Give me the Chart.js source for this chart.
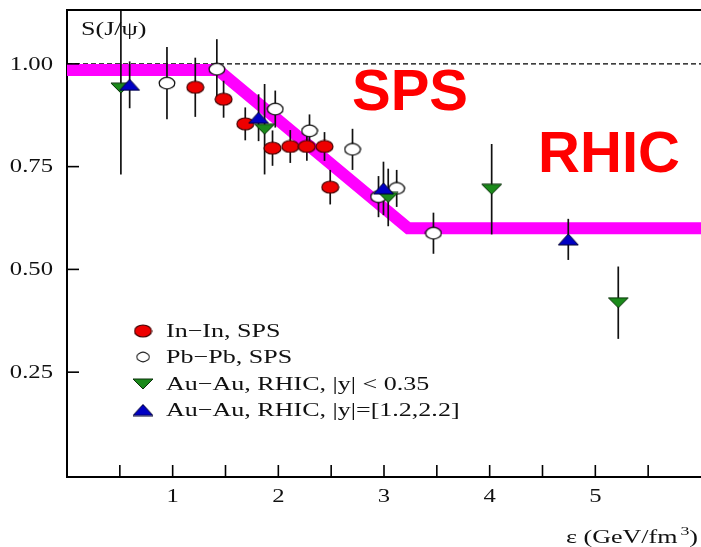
<!DOCTYPE html>
<html>
<head>
<meta charset="utf-8">
<script src="https://cdn.jsdelivr.net/npm/chart.js@4.4.0/dist/chart.umd.min.js"></script>
<style>
  body { margin: 0; background: #fff; }
  canvas { display: block; }
</style>
</head>
<body>
<canvas id="suppChart" width="701" height="547"></canvas>
<script>
// J/psi survival vs energy density
const inInX = [1.214, 1.482, 1.687, 1.945, 2.113, 2.27, 2.437, 2.491];
const inInY = [0.943, 0.914, 0.854, 0.795, 0.799, 0.799, 0.799, 0.700];
const inInErr = [0.072, 0.045, 0.040, 0.043, 0.040, 0.035, 0.035, 0.042];

const pbPbX = [0.946, 1.418, 1.971, 2.295, 2.702, 2.948, 3.12, 3.468];
const pbPbY = [0.953, 0.987, 0.890, 0.837, 0.792, 0.677, 0.697, 0.588];
const pbPbErr = [0.088, 0.073, 0.045, 0.040, 0.050, 0.050, 0.045, 0.050];

const auMidX = [0.51, 1.87, 3.04, 4.019, 5.217];
const auMidY = [0.941, 0.841, 0.675, 0.695, 0.419];
const auMidErr = [0.21, 0.11, 0.07, 0.11, 0.088];

const auFwdX = [0.593, 1.813, 2.995, 4.744];
const auFwdY = [0.949, 0.869, 0.697, 0.573];
const auFwdErr = [0.057, 0.057, 0.065, 0.050];

// magenta "expectation" band and the dashed unity line
const bandX = [0, 1.43, 3.23, 6];
const bandY = [0.985, 0.985, 0.60, 0.60];
const refX = [0, 6];
const refY = [1, 1];

const seriesNames = ['In\u2212In, SPS', 'Pb\u2212Pb, SPS', 'Au\u2212Au, RHIC, |y| < 0.35', 'Au\u2212Au, RHIC, |y|=[1.2,2.2]'];
const xLabelValues = [1, 2, 3, 4, 5];
const xTickLabels = ['1', '2', '3', '4', '5'];
const yTickValues = [0.25, 0.5, 0.75, 1.0];
const yTickLabels = ['0.25', '0.50', '0.75', '1.00'];

const SX = 1.37; // the scanned figure is stretched sideways
const SERIF = '"Liberation Serif", "Times New Roman", serif';

function toPoints(xs, ys) {
    return xs.map((x, i) => ({ x: x, y: ys[i] }));
}

function marker(w, h, draw) {
    const c = document.createElement('canvas');
    c.width = w;
    c.height = h;
    draw(c.getContext('2d'), w, h);
    return c;
}

const redDot = marker(19, 14, (g, w, h) => {
    g.beginPath();
    g.ellipse(w / 2, h / 2, w / 2 - 1, h / 2 - 1, 0, 0, Math.PI * 2);
    g.fillStyle = '#ee0000';
    g.fill();
    g.lineWidth = 1.2;
    g.strokeStyle = '#400000';
    g.stroke();
});
const whiteDot = marker(18, 14, (g, w, h) => {
    g.beginPath();
    g.ellipse(w / 2, h / 2, w / 2 - 1.2, h / 2 - 1.2, 0, 0, Math.PI * 2);
    g.fillStyle = '#ffffff';
    g.fill();
    g.lineWidth = 1.3;
    g.strokeStyle = '#111';
    g.stroke();
});
const greenDown = marker(22, 12, (g, w, h) => {
    g.beginPath();
    g.moveTo(1, 1); g.lineTo(w - 1, 1); g.lineTo(w / 2, h - 1); g.closePath();
    g.fillStyle = '#1b8a1b';
    g.fill();
    g.lineWidth = 1;
    g.strokeStyle = '#0a300a';
    g.stroke();
});
const blueUp = marker(22, 13, (g, w, h) => {
    g.beginPath();
    g.moveTo(w / 2, 1); g.lineTo(w - 1, h - 1); g.lineTo(1, h - 1); g.closePath();
    g.fillStyle = '#0000c4';
    g.fill();
    g.lineWidth = 1;
    g.strokeStyle = '#000030';
    g.stroke();
});

const errSeries = [
    { xs: inInX, ys: inInY, es: inInErr },
    { xs: pbPbX, ys: pbPbY, es: pbPbErr },
    { xs: auMidX, ys: auMidY, es: auMidErr },
    { xs: auFwdX, ys: auFwdY, es: auFwdErr }
];

function wideText(ctx, text, x, y, align, font) {
    ctx.save();
    ctx.font = font;
    ctx.translate(x, y);
    ctx.scale(SX, 1);
    ctx.textAlign = align;
    ctx.fillText(text, 0, 0);
    ctx.restore();
}

const paperPlugin = {
    id: 'paper',
    afterDatasetDraw(chart, args) {
        // error bars go over the band but under the markers
        if (args.index !== 1) return;
        const ctx = chart.ctx;
        const xs = chart.scales.x, ys = chart.scales.y, area = chart.chartArea;
        ctx.save();
        ctx.beginPath();
        ctx.rect(area.left, area.top, area.right - area.left, area.bottom - area.top);
        ctx.clip();
        ctx.strokeStyle = '#111';
        ctx.lineWidth = 1.7;
        errSeries.forEach(s => {
            s.xs.forEach((x, i) => {
                const px = xs.getPixelForValue(x);
                ctx.beginPath();
                ctx.moveTo(px, ys.getPixelForValue(s.ys[i] + s.es[i]));
                ctx.lineTo(px, ys.getPixelForValue(s.ys[i] - s.es[i]));
                ctx.stroke();
            });
        });
        ctx.restore();
    },
    afterDraw(chart) {
        const ctx = chart.ctx;
        const xs = chart.scales.x, ys = chart.scales.y, area = chart.chartArea;
        ctx.save();
        ctx.strokeStyle = '#000';
        ctx.lineWidth = 2;
        // top frame
        ctx.beginPath();
        ctx.moveTo(area.left, area.top);
        ctx.lineTo(area.right, area.top);
        ctx.stroke();
        // inward tick marks
        ctx.lineWidth = 1.6;
        xs.ticks.forEach(t => {
            if (t.value <= xs.min || t.value >= xs.max) return;
            const px = xs.getPixelForValue(t.value);
            ctx.beginPath();
            ctx.moveTo(px, area.bottom);
            ctx.lineTo(px, area.bottom - 12);
            ctx.stroke();
        });
        ys.ticks.forEach(t => {
            const py = ys.getPixelForValue(t.value);
            ctx.beginPath();
            ctx.moveTo(area.left, py);
            ctx.lineTo(area.left + 12, py);
            ctx.stroke();
        });

        ctx.fillStyle = '#111';
        ctx.textBaseline = 'middle';
        const tickFont = '18px ' + SERIF;
        yTickValues.forEach((v, i) => {
            wideText(ctx, yTickLabels[i], 53, ys.getPixelForValue(v) + 1, 'right', tickFont);
        });
        xLabelValues.forEach((v, i) => {
            wideText(ctx, xTickLabels[i], xs.getPixelForValue(v), 497, 'center', tickFont);
        });

        // axis titles
        wideText(ctx, 'S(J/\u03C8)', 81, 30, 'left', '19px ' + SERIF);
        ctx.textBaseline = 'alphabetic';
        ctx.font = '19px ' + SERIF;
        const w1 = ctx.measureText('\u03B5 (GeV/fm').width * SX;
        const w3 = ctx.measureText(')').width * SX;
        ctx.font = '13px ' + SERIF;
        const w2 = ctx.measureText('3').width * SX;
        let tx = 698 - (w1 + 3 + w2 + w3);
        wideText(ctx, '\u03B5 (GeV/fm', tx, 543, 'left', '19px ' + SERIF);
        tx += w1 + 3;
        wideText(ctx, '3', tx, 535, 'left', '13px ' + SERIF);
        tx += w2;
        wideText(ctx, ')', tx, 543, 'left', '19px ' + SERIF);

        // legend
        ctx.textBaseline = 'middle';
        const rows = [331, 357, 384, 410];
        chart.data.datasets.forEach(ds => {
            if (ds.legendRow === undefined) return;
            const y = rows[ds.legendRow];
            const img = ds.pointStyle;
            const k = ds.legendRow === 1 ? 0.8 : 1; // open circle is drawn smaller in the key
            ctx.drawImage(img, 143 - img.width * k / 2, y - img.height * k / 2, img.width * k, img.height * k);
            wideText(ctx, ds.label, 166, y + 1, 'left', '19px ' + SERIF);
        });

        // region labels
        ctx.fillStyle = '#ff0000';
        ctx.textBaseline = 'alphabetic';
        ctx.textAlign = 'center';
        ctx.font = 'bold 58px "Liberation Sans", Arial, sans-serif';
        ctx.fillText('SPS', 410, 110);
        ctx.fillText('RHIC', 609, 172);
        ctx.restore();
    }
};

new Chart(document.getElementById('suppChart'), {
    type: 'scatter',
    data: {
        datasets: [
            { data: toPoints(refX, refY), showLine: true, borderColor: '#000', borderWidth: 1.2,
              borderDash: [5, 3], pointRadius: 0, order: 12 },
            { data: toPoints(bandX, bandY), showLine: true, borderColor: '#ff00ff', borderWidth: 12,
              borderJoinStyle: 'miter', borderCapStyle: 'butt', pointRadius: 0, order: 11 },
            { label: seriesNames[0], legendRow: 0, data: toPoints(inInX, inInY), pointStyle: redDot, pointRadius: 7, order: 4 },
            { label: seriesNames[1], legendRow: 1, data: toPoints(pbPbX, pbPbY), pointStyle: whiteDot, pointRadius: 7, order: 3 },
            { label: seriesNames[2], legendRow: 2, data: toPoints(auMidX, auMidY), pointStyle: greenDown, pointRadius: 7, order: 2 },
            { label: seriesNames[3], legendRow: 3, data: toPoints(auFwdX, auFwdY), pointStyle: blueUp, pointRadius: 7, order: 1 }
        ]
    },
    options: {
        responsive: false,
        animation: false,
        events: [],
        layout: { autoPadding: false, padding: { top: 10, left: 0, right: 0, bottom: 0 } },
        plugins: { legend: { display: false }, tooltip: { enabled: false } },
        scales: {
            x: {
                type: 'linear', min: 0, max: 6,
                ticks: { display: false, stepSize: 0.5 },
                grid: { display: false },
                border: { display: true, color: '#000', width: 2 },
                afterFit(s) { s.height = 70; }
            },
            y: {
                type: 'linear', min: -0.005, max: 1.131,
                ticks: { display: false },
                afterBuildTicks(s) { s.ticks = yTickValues.map(v => ({ value: v })); },
                grid: { display: false },
                border: { display: true, color: '#000', width: 2 },
                afterFit(s) { s.width = 67; }
            }
        }
    },
    plugins: [paperPlugin]
});
</script>
</body>
</html>
